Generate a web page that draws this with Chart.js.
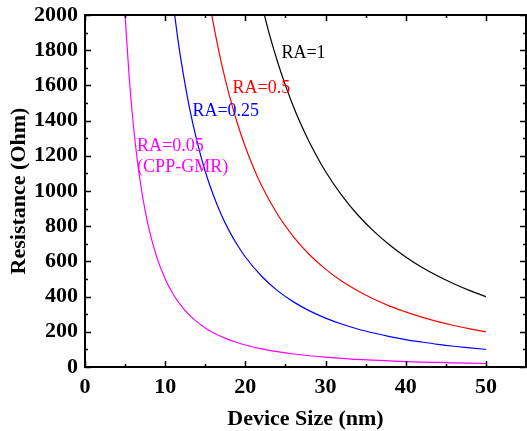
<!DOCTYPE html>
<html>
<head>
<meta charset="utf-8">
<script src="https://cdn.jsdelivr.net/npm/chart.js@4.4.1/dist/chart.umd.min.js"></script>
<style>
html,body{margin:0;padding:0;background:#fff;}
#wrap{width:527px;height:431px;position:relative;}
</style>
</head>
<body>
<div id="wrap"><canvas id="c" width="527" height="431"></canvas></div>
<script>
// Device size (nm) and resistance (Ohm)
const sizeRA005 = [5, 5.5, 6, 6.5, 7, 7.5, 8, 9, 10, 11, 12, 13, 14, 15, 16, 17, 18, 19, 20, 22, 24, 26, 28, 30, 32, 34, 36, 38, 40, 42, 44, 46, 48, 50];
const resRA005  = [2000, 1653, 1389, 1183, 1020, 889, 781, 617, 500, 413, 347, 296, 255, 222, 195, 173, 154, 139, 125, 103, 87, 74, 64, 56, 49, 43, 39, 35, 31, 28, 26, 24, 22, 20];

const sizeRA025 = [11, 11.5, 12, 13, 14, 15, 16, 17, 18, 19, 20, 22, 24, 26, 28, 30, 32, 34, 36, 38, 40, 42, 44, 46, 48, 50];
const resRA025  = [2066, 1890, 1736, 1479, 1276, 1111, 977, 865, 772, 693, 625, 517, 434, 370, 319, 278, 244, 216, 193, 173, 156, 142, 129, 118, 109, 100];

const sizeRA05 = [15.5, 16, 17, 18, 19, 20, 21, 22, 24, 26, 28, 30, 32, 34, 36, 38, 40, 42, 44, 46, 48, 50];
const resRA05  = [2081, 1953, 1730, 1543, 1385, 1250, 1134, 1033, 868, 740, 638, 556, 488, 433, 386, 346, 313, 283, 258, 236, 217, 200];

const sizeRA1 = [22, 23, 24, 25, 26, 27, 28, 30, 32, 34, 36, 38, 40, 42, 44, 46, 48, 50];
const resRA1  = [2066, 1890, 1736, 1600, 1479, 1372, 1276, 1111, 977, 865, 772, 693, 625, 567, 517, 473, 434, 400];

const xTicks = [0, 10, 20, 30, 40, 50];
const yTicks = [0, 200, 400, 600, 800, 1000, 1200, 1400, 1600, 1800, 2000];

const seriesNames = ['RA=0.05', 'RA=0.25', 'RA=0.5', 'RA=1'];
const annText = ['RA=1', 'RA=0.5', 'RA=0.25', 'RA=0.05', '(CPP-GMR)'];
const annX    = [24.5, 18.4, 13.4, 6.5, 6.5];
const annY    = [1784, 1585, 1455, 1256, 1136];

function pts(xs, ys){ return xs.map((x,i)=>({x:x, y:ys[i]})); }

const colors = ['#ff00ff', '#0000ff', '#ff0000', '#000000'];
const annColors = ['#000000', '#ff0000', '#0000ff', '#ff00ff', '#ff00ff'];

const frame = {
  id: 'frame',
  afterDraw(chart){
    const {ctx, chartArea:a, scales:{x, y}} = chart;
    ctx.save();
    ctx.strokeStyle = '#000';
    ctx.lineWidth = 1.5;
    for (let v = 0; v <= 55; v += 5){
      const px = Math.round(x.getPixelForValue(v)) + 0.5;
      const L = (v % 10 === 0) ? 6 : 3;
      ctx.beginPath();
      ctx.moveTo(px, a.bottom); ctx.lineTo(px, a.bottom - L);
      ctx.moveTo(px, a.top); ctx.lineTo(px, a.top + L);
      ctx.stroke();
    }
    for (let v = 0; v <= 2000; v += 100){
      const py = Math.round(y.getPixelForValue(v)) + 0.5;
      const L = (v % 200 === 0) ? 6 : 3;
      ctx.beginPath();
      ctx.moveTo(a.left, py); ctx.lineTo(a.left + L, py);
      ctx.moveTo(a.right, py); ctx.lineTo(a.right - L, py);
      ctx.stroke();
    }
    ctx.lineWidth = 2;
    ctx.strokeRect(a.left, a.top, a.right - a.left, a.bottom - a.top);
    ctx.font = '18px "Liberation Serif"';
    ctx.textBaseline = 'middle';
    ctx.textAlign = 'left';
    annText.forEach((t, i) => {
      ctx.fillStyle = annColors[i];
      ctx.fillText(t, x.getPixelForValue(annX[i]), y.getPixelForValue(annY[i]));
    });
    ctx.restore();
  }
};

const tickFont = {family: 'Liberation Serif', weight: 'bold', size: 22};
const titleFont = {family: 'Liberation Serif', weight: 'bold', size: 22};

new Chart(document.getElementById('c'), {
  type: 'line',
  data: {
    datasets: [
      {label: seriesNames[0], data: pts(sizeRA005, resRA005), borderColor: colors[0]},
      {label: seriesNames[1], data: pts(sizeRA025, resRA025), borderColor: colors[1]},
      {label: seriesNames[2], data: pts(sizeRA05, resRA05), borderColor: colors[2]},
      {label: seriesNames[3], data: pts(sizeRA1, resRA1), borderColor: colors[3]}
    ].map(d => Object.assign(d, {borderWidth: 1.2, pointRadius: 0, fill: false, cubicInterpolationMode: 'monotone'}))
  },
  options: {
    responsive: false,
    animation: false,
    events: [],
    layout: {padding: {top: 15, right: 1, left: 0, bottom: 0}},
    plugins: {legend: {display: false}, tooltip: {enabled: false}},
    scales: {
      x: {
        type: 'linear', min: 0, max: 55,
        afterBuildTicks(s){ s.ticks = xTicks.map(v => ({value: v})); },
        afterFit(s){ s.height = 64; s.paddingLeft = 0; s.paddingRight = 0; },
        grid: {display: false, drawTicks: false},
        border: {display: false},
        ticks: {color: '#000', padding: 7, font: tickFont, callback: v => String(v)},
        title: {display: true, text: 'Device Size (nm)', color: '#000', padding: {top: 0, bottom: -2}, font: titleFont}
      },
      y: {
        type: 'linear', min: 0, max: 2000,
        afterBuildTicks(s){ s.ticks = yTicks.map(v => ({value: v})); },
        afterFit(s){ s.width = 85; s.paddingTop = 0; s.paddingBottom = 0; },
        grid: {display: false, drawTicks: false},
        border: {display: false},
        ticks: {color: '#000', padding: 7, font: tickFont, callback: v => String(v)},
        title: {display: true, text: 'Resistance (Ohm)', color: '#000', padding: {top: 6, bottom: 0}, font: titleFont}
      }
    }
  },
  plugins: [frame]
});
</script>
</body>
</html>
